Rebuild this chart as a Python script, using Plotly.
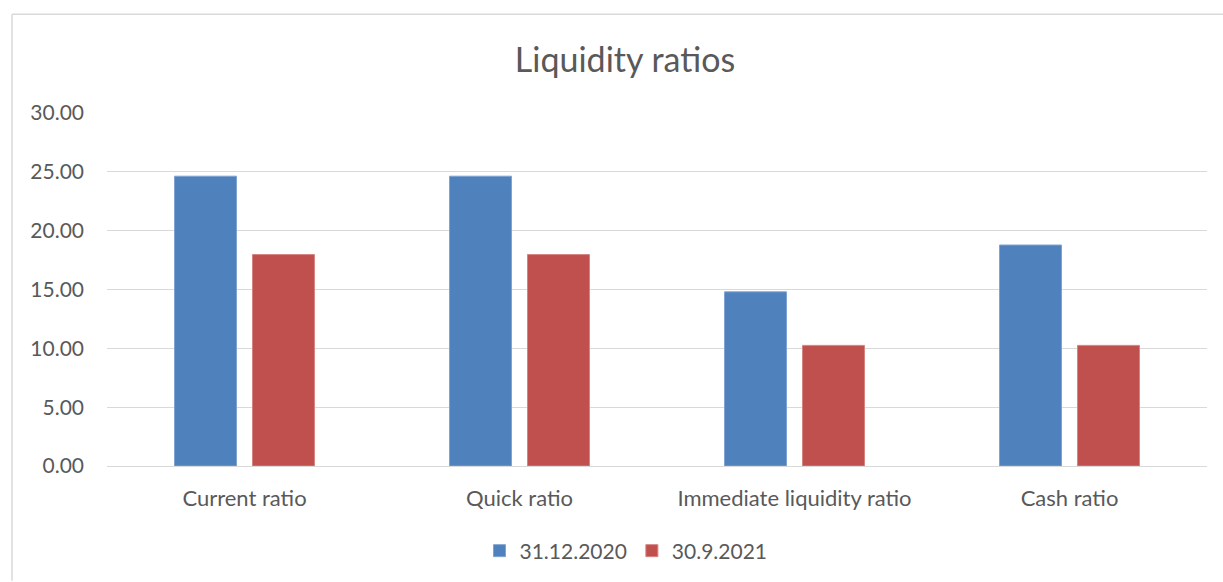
import plotly.graph_objects as go

categories = ["Current ratio", "Quick ratio", "Immediate liquidity ratio", "Cash ratio"]
series_2020 = [24.63, 24.63, 14.80, 18.78]
series_2021 = [17.97, 17.97, 10.25, 10.25]
tick_vals = [0, 5, 10, 15, 20, 25, 30]

FONT = "Lato"
GRAY = "#595959"
GRID = "#d9d9d9"

fig = go.Figure()
fig.add_trace(go.Bar(name="31.12.2020", x=categories, y=series_2020,
                     marker=dict(color="#4f81bd", line=dict(color="#7fa3d3", width=1))))
fig.add_trace(go.Bar(name="30.9.2021", x=categories, y=series_2021,
                     marker=dict(color="#c0504d", line=dict(color="#d68482", width=1))))

L, R, T, B = 107, 16, 113, 115
W, H = 1223, 582
pw = W - L - R
ph = H - T - B

def px(x):
    return (x - L) / pw

def py(y):
    return (H - B - y) / ph

fig.update_layout(
    width=W, height=H,
    margin=dict(l=L, r=R, t=T, b=B),
    paper_bgcolor="white", plot_bgcolor="white",
    barmode="group", bargap=0.433, bargroupgap=0.205,
    font=dict(family=FONT, color=GRAY),
    title=dict(text="Liquidity ratios", xref="container", x=625 / W, xanchor="center",
               yref="container", y=1 - 60 / H, yanchor="middle",
               font=dict(family=FONT, size=34, color=GRAY)),
    showlegend=True,
    legend=dict(orientation="h", x=px(626), xanchor="center", y=py(551), yanchor="middle",
                font=dict(family=FONT, size=21, color=GRAY), itemwidth=30,
                traceorder="normal"),
    xaxis=dict(showgrid=False, showline=True, linecolor=GRID, linewidth=1,
               ticks="", tickfont=dict(family=FONT, size=22, color=GRAY),
               ticklabelstandoff=13),
    yaxis=dict(range=[0, 30], tickvals=tick_vals, tickformat=".2f",
               showgrid=True, gridcolor=GRID, gridwidth=1,
               zeroline=True, zerolinecolor=GRID, zerolinewidth=1,
               showline=False, ticks="",
               tickfont=dict(family=FONT, size=21, color=GRAY),
               ticklabelstandoff=22),
    shapes=[
        dict(type="line", xref="paper", yref="paper", x0=px(12), x1=px(1223), y0=py(14), y1=py(14),
             line=dict(color=GRID, width=1.5)),
        dict(type="line", xref="paper", yref="paper", x0=px(12), x1=px(12), y0=py(14), y1=py(582),
             line=dict(color=GRID, width=1.5)),
    ],
)

fig.write_html("out.html", config={"displayModeBar": False},
               post_script="document.body.style.margin='0';document.body.style.overflow='hidden';")
